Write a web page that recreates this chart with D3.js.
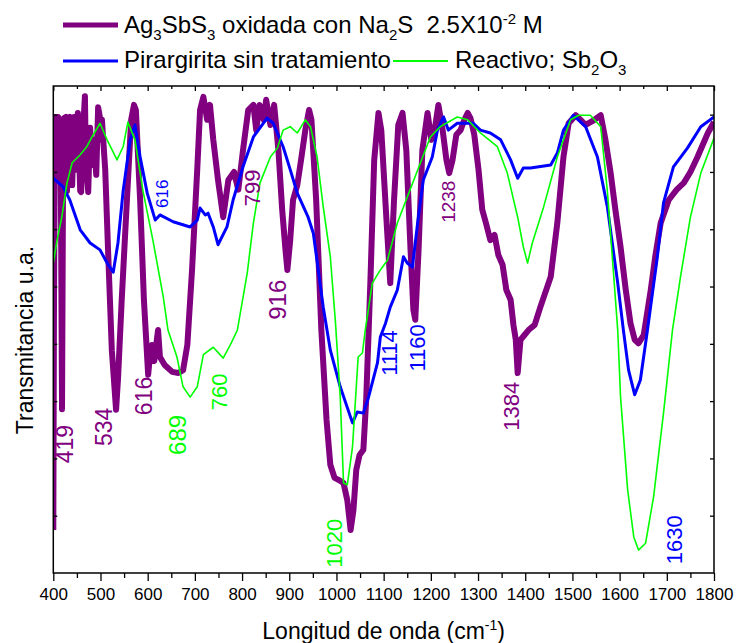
<!DOCTYPE html>
<html>
<head>
<meta charset="utf-8">
<script src="https://cdn.jsdelivr.net/npm/d3@7"></script>
<style>
  body { margin: 0; background: #fff; }
  text { font-family: Arial, "Liberation Sans", sans-serif; }
</style>
</head>
<body>
<script>
// Ag3SbS3 oxidada con Na2S 2.5x10-2 M
var agWave = [400, 401.5, 403.6, 406, 408, 410, 414, 416, 418.5, 421, 423, 427, 429, 431, 435, 440, 444, 448, 452, 457, 459, 463, 467, 469, 474, 478, 482, 486, 491, 495, 499, 501, 503, 510, 516, 524, 533, 537, 545, 556, 565, 571, 575, 584, 592, 601, 605, 609, 614, 618, 622, 626, 636, 652, 665, 675, 684, 694, 705, 711, 718, 726, 732, 739, 749, 760, 771, 783, 792, 802, 813, 824, 830, 837, 846, 851, 860, 868, 877, 885, 892, 896, 902, 908, 917, 925, 934, 942, 947, 957, 968, 979, 987, 996, 1006, 1015, 1023, 1030, 1036, 1042, 1049, 1057, 1063, 1072, 1080, 1089, 1095, 1106, 1114, 1122, 1131, 1140, 1148, 1157, 1163, 1167, 1174, 1182, 1193, 1201, 1208, 1216, 1225, 1233, 1239, 1246, 1254, 1263, 1271, 1278, 1284, 1292, 1301, 1309, 1318, 1326, 1335, 1343, 1352, 1360, 1369, 1375, 1380, 1384, 1390, 1398, 1407, 1420, 1432, 1454, 1468, 1481, 1492, 1507, 1528, 1543, 1560, 1570, 1581, 1591, 1602, 1613, 1623, 1632, 1640, 1651, 1666, 1676, 1687, 1704, 1721, 1736, 1750, 1765, 1787, 1800];
var agT = [7.5, 47.7, 79.6, 79.6, 68.6, 79.6, 79.1, 68.6, 28.6, 75.6, 79.4, 79.6, 66.7, 79.4, 79.6, 67.7, 79.6, 70.4, 80.3, 66.7, 66.5, 77.3, 83.2, 72.1, 66.5, 77.7, 71.2, 75.6, 69.5, 81.3, 79.4, 75.6, 79.1, 70.4, 56.4, 38.9, 28.5, 33.7, 47.7, 65.1, 79.1, 81.7, 80.8, 65.1, 47.7, 34.6, 38.1, 39.8, 37.0, 39.8, 42.4, 37.7, 36.3, 35.1, 34.9, 35.4, 39.8, 52.9, 70.4, 80.8, 83.1, 79.1, 81.7, 75.6, 68.6, 62.1, 68.6, 70.0, 66.9, 73.8, 80.8, 81.7, 77.3, 81.7, 79.1, 82.6, 78.2, 81.7, 73.8, 63.4, 56.4, 52.9, 58.1, 65.1, 67.7, 72.1, 77.3, 80.8, 79.1, 65.1, 42.4, 26.7, 18.9, 16.6, 16.2, 15.7, 12.7, 7.5, 11.0, 18.0, 20.6, 21.5, 30.2, 51.1, 72.1, 80.3, 77.3, 61.6, 50.6, 65.1, 78.2, 80.3, 73.8, 56.4, 45.9, 44.2, 56.4, 73.8, 80.3, 75.6, 77.3, 81.7, 77.3, 72.1, 69.8, 72.1, 76.5, 77.3, 79.1, 80.3, 79.4, 76.5, 70.4, 63.4, 60.7, 58.1, 59.0, 55.5, 53.8, 49.4, 47.7, 43.3, 40.7, 34.9, 40.7, 41.5, 42.4, 43.3, 46.4, 51.7, 61.1, 72.6, 78.5, 79.9, 78.2, 78.9, 79.9, 75.6, 69.8, 63.4, 56.9, 49.4, 43.6, 40.7, 40.1, 41.5, 49.4, 55.5, 61.1, 65.1, 66.9, 68.1, 70.0, 72.6, 76.8, 78.7];

// Pirargirita sin tratamiento
var pirWave = [400, 421, 435, 457, 478, 499, 514, 527, 537, 548, 563, 573, 584, 599, 616, 626, 654, 690, 705, 711, 722, 728, 739, 749, 768, 781, 802, 824, 853, 866, 887, 902, 917, 940, 951, 972, 987, 1008, 1034, 1044, 1057, 1068, 1087, 1093, 1104, 1114, 1129, 1142, 1150, 1161, 1172, 1184, 1203, 1214, 1227, 1237, 1256, 1290, 1305, 1326, 1348, 1369, 1384, 1396, 1411, 1454, 1468, 1481, 1502, 1528, 1553, 1574, 1596, 1608, 1619, 1632, 1644, 1659, 1680, 1693, 1714, 1744, 1772, 1800];
var pirT = [68.9, 67.4, 65.1, 59.9, 57.6, 56.4, 54.1, 52.5, 57.6, 66.7, 75.6, 78.2, 72.6, 66.3, 61.6, 62.5, 61.3, 60.4, 61.6, 63.7, 62.5, 62.8, 60.4, 57.3, 60.4, 65.1, 70.9, 76.1, 79.4, 78.5, 74.4, 70.4, 66.3, 62.1, 59.3, 46.4, 38.9, 32.5, 26.2, 28.1, 27.9, 30.7, 36.7, 41.2, 43.6, 46.4, 49.4, 55.2, 54.1, 53.4, 61.1, 68.6, 72.6, 77.3, 79.6, 77.3, 78.5, 78.5, 77.3, 76.8, 75.6, 72.1, 68.9, 70.7, 70.7, 71.2, 73.3, 77.3, 79.9, 77.9, 72.6, 63.9, 50.6, 42.4, 35.4, 31.1, 33.7, 42.4, 55.2, 64.6, 70.9, 74.2, 77.9, 79.6];

// Reactivo; Sb2O3
var sbWave = [400, 408, 418, 429, 440, 457, 471, 482, 499, 514, 535, 548, 558, 573, 590, 611, 633, 643, 662, 675, 690, 705, 718, 739, 760, 775, 790, 811, 824, 838, 860, 875, 887, 902, 917, 934, 945, 959, 972, 987, 998, 1008, 1015, 1023, 1034, 1046, 1055, 1061, 1076, 1093, 1108, 1129, 1150, 1178, 1199, 1220, 1256, 1278, 1305, 1341, 1362, 1384, 1396, 1405, 1415, 1439, 1468, 1496, 1513, 1538, 1560, 1574, 1587, 1596, 1602, 1617, 1630, 1640, 1655, 1672, 1693, 1712, 1729, 1750, 1772, 1800];
var sbT = [54.1, 58.1, 62.1, 68.1, 71.6, 73.0, 74.4, 76.1, 78.5, 75.6, 72.1, 74.4, 78.7, 75.6, 66.7, 58.1, 48.2, 42.4, 37.7, 32.5, 30.7, 32.5, 38.1, 39.4, 37.5, 39.8, 42.4, 52.4, 61.1, 68.1, 72.6, 74.2, 77.3, 77.9, 76.8, 79.1, 77.9, 72.6, 63.9, 55.2, 43.6, 30.7, 15.7, 15.4, 22.0, 37.7, 38.4, 42.4, 50.6, 52.9, 54.6, 61.1, 65.6, 71.6, 76.1, 77.9, 79.6, 79.1, 76.8, 74.4, 69.8, 62.1, 56.9, 54.1, 57.6, 63.9, 72.6, 79.1, 79.9, 79.9, 77.9, 66.7, 52.4, 42.4, 30.7, 14.5, 6.3, 4.0, 5.2, 13.3, 27.9, 42.4, 51.7, 62.1, 69.8, 75.9];

// band labels: text, wavenumber and transmittance of the label centre, series
var peakText = ["419", "534", "616", "689", "760", "616", "799", "916", "1020", "1114", "1160", "1238", "1384", "1630"];
var peakWave = [425, 506.5, 592, 662, 751.5, 629.5, 821.5, 874.5, 995.5, 1112, 1171.5, 1236, 1371, 1714.5];
var peakT = [22.5, 25.5, 30.9, 24.1, 31.6, 66.2, 67.2, 47.7, 5.2, 38.4, 39.3, 64.8, 29.1, 5.8];
var peakSeries = ["ag", "ag", "ag", "sb", "sb", "pir", "ag", "ag", "sb", "pir", "pir", "ag", "ag", "pir"];

var xTicks = [400, 500, 600, 700, 800, 900, 1000, 1100, 1200, 1300, 1400, 1500, 1600, 1700, 1800];

var colors = { ag: "#800080", pir: "#0000ff", sb: "#00ff00" };
var peakSize = [23, 23, 23, 24, 22, 17, 22, 24, 22, 22, 22, 19, 22, 22];

var width = 737, height = 643;
var plotL = 53.3, plotR = 714, plotT = 86, plotB = 573;

var svg = d3.select("body").append("svg")
  .attr("width", width)
  .attr("height", height);

var x = d3.scaleLinear().domain([400, 1800]).range([plotL, plotR]);
var y = d3.scaleLinear().domain([0, 85]).range([plotB, plotT]);

svg.append("clipPath").attr("id", "plotClip")
  .append("rect")
  .attr("x", plotL).attr("y", plotT)
  .attr("width", plotR - plotL).attr("height", plotB - plotT);

var line = d3.line()
  .x(function (d) { return x(d[0]); })
  .y(function (d) { return y(d[1]); });

function pairs(w, t) {
  return w.map(function (v, i) { return [v, t[i]]; });
}

var plot = svg.append("g").attr("clip-path", "url(#plotClip)");

plot.append("path")
  .datum(pairs(agWave, agT))
  .attr("fill", "none")
  .attr("stroke", colors.ag)
  .attr("stroke-width", 6)
  .attr("stroke-linejoin", "round")
  .attr("d", line);

plot.append("path")
  .datum(pairs(pirWave, pirT))
  .attr("fill", "none")
  .attr("stroke", colors.pir)
  .attr("stroke-width", 3)
  .attr("stroke-linejoin", "round")
  .attr("d", line);

plot.append("path")
  .datum(pairs(sbWave, sbT))
  .attr("fill", "none")
  .attr("stroke", colors.sb)
  .attr("stroke-width", 1.6)
  .attr("stroke-linejoin", "round")
  .attr("d", line);

// band labels, rotated
peakText.forEach(function (t, i) {
  var px = x(peakWave[i]), py = y(peakT[i]);
  svg.append("text")
    .attr("transform", "translate(" + px + "," + py + ") rotate(-90)")
    .attr("text-anchor", "middle")
    .attr("dy", "0.36em")
    .attr("fill", colors[peakSeries[i]])
    .style("font-size", peakSize[i] + "px")
    .text(t);
});

// axes
var minorX = d3.range(450, 1800, 100);

var bAxis = svg.append("g")
  .attr("transform", "translate(0," + plotB + ")")
  .call(d3.axisBottom(x).tickValues(xTicks).tickSize(8).tickPadding(7).tickFormat(d3.format("d")));
bAxis.selectAll("text").style("font-size", "17px").attr("fill", "#000");
svg.append("g")
  .attr("transform", "translate(0," + plotB + ")")
  .call(d3.axisBottom(x).tickValues(minorX).tickSize(5).tickFormat(""));

svg.append("g")
  .attr("transform", "translate(0," + plotT + ")")
  .call(d3.axisTop(x).tickValues(xTicks).tickSize(-5).tickFormat(""));
svg.append("g")
  .attr("transform", "translate(0," + plotT + ")")
  .call(d3.axisTop(x).tickValues(minorX).tickSize(-3).tickFormat(""));

var yTicks = d3.range(10, 81, 10);
svg.append("g")
  .attr("transform", "translate(" + plotL + ",0)")
  .call(d3.axisLeft(y).tickValues(yTicks).tickSize(-4).tickFormat(""));
svg.append("g")
  .attr("transform", "translate(" + plotR + ",0)")
  .call(d3.axisRight(y).tickValues(yTicks).tickSize(-4).tickFormat(""));

svg.selectAll(".domain").remove();
svg.selectAll(".tick line").attr("stroke", "#000").attr("stroke-width", 1.3);

svg.append("rect")
  .attr("x", plotL).attr("y", plotT)
  .attr("width", plotR - plotL).attr("height", plotB - plotT)
  .attr("fill", "none")
  .attr("stroke", "#000")
  .attr("stroke-width", 1.5);

// axis titles
var xt = svg.append("text")
  .attr("x", (plotL + plotR) / 2)
  .attr("y", 639)
  .attr("text-anchor", "middle")
  .style("font-size", "23px");
xt.append("tspan").text("Longitud de onda (cm");
xt.append("tspan").attr("dy", -9).style("font-size", "14px").text("-1");
xt.append("tspan").attr("dy", 9).text(")");

svg.append("text")
  .attr("transform", "translate(33,340) rotate(-90)")
  .attr("text-anchor", "middle")
  .style("font-size", "23px")
  .text("Transmitancia u.a.");

// legend
var lg = svg.append("g").style("font-size", "24px");

function sub(t, s) {
  t.append("tspan").attr("dy", 7).style("font-size", "15px").text(s);
  return t.append("tspan").attr("dy", -7);
}

lg.append("line").attr("x1", 63).attr("x2", 118).attr("y1", 25).attr("y2", 25)
  .attr("stroke", colors.ag).attr("stroke-width", 5);
var t1 = lg.append("text").attr("x", 124).attr("y", 33).style("white-space", "pre");
t1.append("tspan").text("Ag");
sub(t1, "3").text("SbS");
sub(t1, "3").text(" oxidada con Na");
sub(t1, "2").text("S  2.5X10");
t1.append("tspan").attr("dy", -9).style("font-size", "15px").text("-2");
t1.append("tspan").attr("dy", 9).text(" M");

lg.append("line").attr("x1", 63).attr("x2", 118).attr("y1", 61).attr("y2", 61)
  .attr("stroke", colors.pir).attr("stroke-width", 3);
lg.append("text").attr("x", 124).attr("y", 68).text("Pirargirita sin tratamiento");

lg.append("line").attr("x1", 393).attr("x2", 448).attr("y1", 61).attr("y2", 61)
  .attr("stroke", colors.sb).attr("stroke-width", 2);
var t3 = lg.append("text").attr("x", 455).attr("y", 68);
t3.append("tspan").text("Reactivo; Sb");
sub(t3, "2").text("O");
sub(t3, "3");
</script>
</body>
</html>
